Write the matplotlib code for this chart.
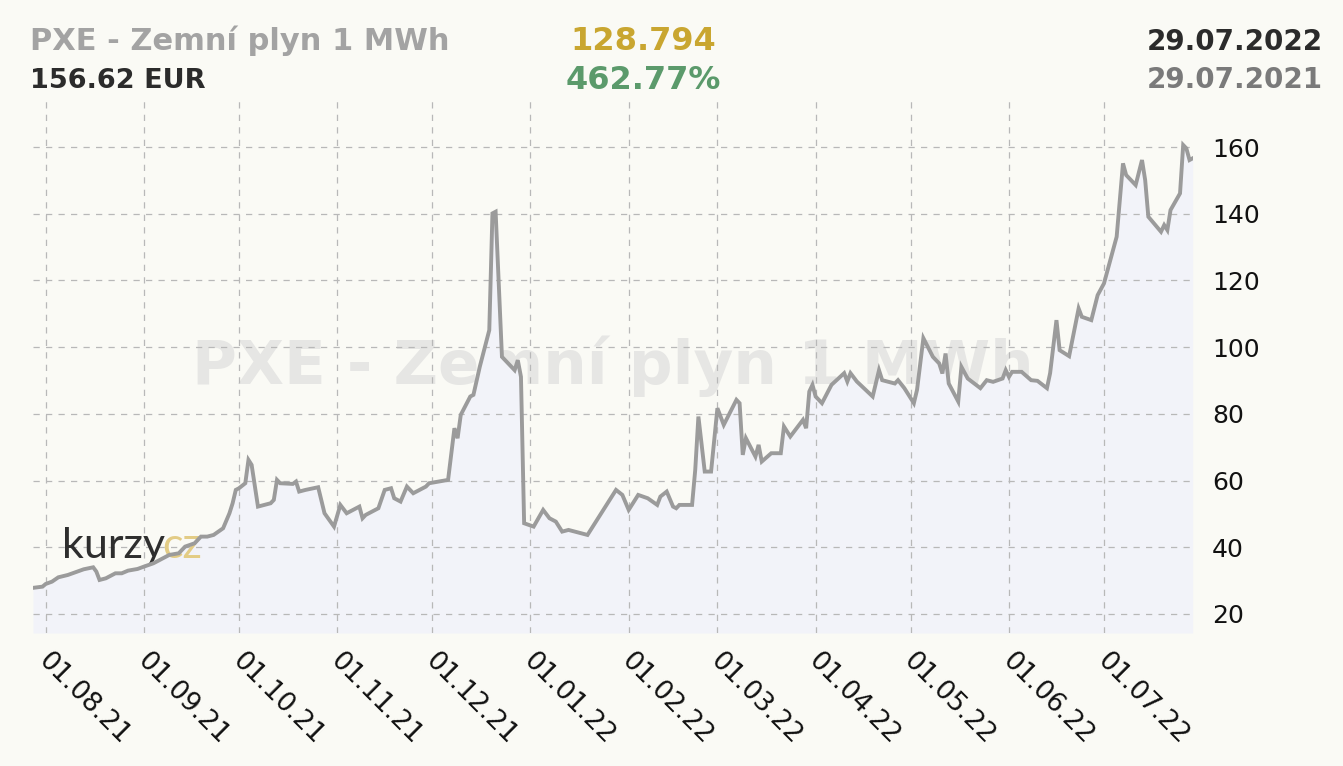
import matplotlib
matplotlib.use("Agg")
import matplotlib.pyplot as plt
from matplotlib.transforms import ScaledTranslation
import pandas as pd

# PXE natural gas 1 MWh, EUR, 29.07.2021 - 29.07.2022
dates = [
    "2021-07-28", "2021-07-31", "2021-08-01", "2021-08-03", "2021-08-05", "2021-08-08",
    "2021-08-11", "2021-08-13", "2021-08-16", "2021-08-17", "2021-08-18", "2021-08-20",
    "2021-08-21", "2021-08-23", "2021-08-25", "2021-08-27", "2021-08-30", "2021-09-01",
    "2021-09-04", "2021-09-07", "2021-09-09", "2021-09-12", "2021-09-14", "2021-09-17",
    "2021-09-19", "2021-09-21", "2021-09-23", "2021-09-26", "2021-09-28", "2021-09-29",
    "2021-09-30", "2021-10-01", "2021-10-03", "2021-10-04", "2021-10-05", "2021-10-07",
    "2021-10-11", "2021-10-12", "2021-10-13", "2021-10-14", "2021-10-18", "2021-10-19",
    "2021-10-20", "2021-10-22", "2021-10-26", "2021-10-28", "2021-10-31", "2021-11-02",
    "2021-11-04", "2021-11-08", "2021-11-09", "2021-11-10", "2021-11-14", "2021-11-16",
    "2021-11-18", "2021-11-19", "2021-11-21", "2021-11-23", "2021-11-25", "2021-11-29",
    "2021-11-30", "2021-12-06", "2021-12-08", "2021-12-09", "2021-12-10", "2021-12-13",
    "2021-12-14", "2021-12-16", "2021-12-19", "2021-12-20", "2021-12-21", "2021-12-23",
    "2021-12-27", "2021-12-28", "2021-12-29", "2021-12-30", "2022-01-02", "2022-01-05",
    "2022-01-07", "2022-01-09", "2022-01-11", "2022-01-13", "2022-01-19", "2022-01-24",
    "2022-01-28", "2022-01-30", "2022-02-01", "2022-02-04", "2022-02-07", "2022-02-10",
    "2022-02-11", "2022-02-13", "2022-02-15", "2022-02-16", "2022-02-17", "2022-02-21",
    "2022-02-22", "2022-02-23", "2022-02-25", "2022-02-27", "2022-03-01", "2022-03-03",
    "2022-03-07", "2022-03-08", "2022-03-09", "2022-03-10", "2022-03-13", "2022-03-14",
    "2022-03-15", "2022-03-18", "2022-03-21", "2022-03-22", "2022-03-24", "2022-03-28",
    "2022-03-29", "2022-03-30", "2022-03-31", "2022-04-01", "2022-04-03", "2022-04-06",
    "2022-04-10", "2022-04-11", "2022-04-12", "2022-04-14", "2022-04-19", "2022-04-21",
    "2022-04-22", "2022-04-26", "2022-04-27", "2022-04-29", "2022-05-02", "2022-05-03",
    "2022-05-05", "2022-05-08", "2022-05-10", "2022-05-11", "2022-05-12", "2022-05-13",
    "2022-05-16", "2022-05-17", "2022-05-19", "2022-05-23", "2022-05-25", "2022-05-27",
    "2022-05-30", "2022-05-31", "2022-06-01", "2022-06-02", "2022-06-05", "2022-06-08",
    "2022-06-10", "2022-06-13", "2022-06-14", "2022-06-16", "2022-06-17", "2022-06-20",
    "2022-06-23", "2022-06-24", "2022-06-27", "2022-06-29", "2022-07-01", "2022-07-03",
    "2022-07-05", "2022-07-07", "2022-07-08", "2022-07-11", "2022-07-13", "2022-07-14",
    "2022-07-15", "2022-07-19", "2022-07-20", "2022-07-21", "2022-07-22", "2022-07-25",
    "2022-07-26", "2022-07-27", "2022-07-28", "2022-07-29",
]
prices = [
    27.83, 28.2, 29.0, 29.7, 31.0, 31.7,
    32.7, 33.4, 34.0, 32.7, 30.2, 30.7,
    31.2, 32.2, 32.2, 33.0, 33.5, 34.2,
    35.2, 36.7, 37.7, 38.2, 40.2, 41.2,
    43.2, 43.2, 43.7, 45.7, 50.2, 53.2,
    57.2, 57.7, 59.2, 66.2, 64.7, 52.2,
    53.2, 54.2, 60.2, 59.2, 59.0, 59.7,
    56.7, 57.2, 58.0, 50.2, 46.2, 52.7,
    50.2, 52.2, 48.7, 49.7, 51.7, 57.2,
    57.7, 54.7, 53.7, 58.2, 56.2, 58.2,
    59.2, 60.2, 75.7, 72.7, 79.7, 85.2,
    85.7, 94.1, 105.1, 140.1, 140.6, 97.1,
    93.1, 96.1, 91.1, 47.2, 46.2, 51.2,
    48.7, 47.7, 44.7, 45.2, 43.7, 51.2,
    57.2, 55.7, 51.2, 55.7, 54.7, 52.7,
    55.2, 56.7, 52.2, 51.7, 52.7, 52.7,
    63.2, 79.2, 62.7, 62.7, 81.7, 76.7,
    84.2, 83.2, 67.7, 72.7, 67.2, 70.7,
    65.7, 68.2, 68.2, 76.2, 73.2, 78.2,
    75.7, 86.7, 88.7, 85.2, 83.2, 88.7,
    92.2, 89.7, 92.2, 89.7, 85.2, 93.1,
    90.1, 89.1, 90.1, 87.7, 83.2, 87.2,
    102.7, 97.1, 95.1, 92.1, 98.1, 89.1,
    83.7, 94.1, 90.6, 87.7, 90.1, 89.6,
    90.6, 93.1, 91.1, 92.6, 92.6, 90.1,
    89.9, 87.7, 92.2, 108.1, 99.1, 97.3,
    111.6, 109.1, 108.1, 115.6, 119.1, 126.1,
    133.1, 155.1, 151.6, 148.6, 156.1, 150.1,
    139.1, 134.6, 136.6, 135.1, 141.1, 146.1,
    160.6, 159.6, 156.1, 156.62,
]

month_ticks = ["2021-08-01", "2021-09-01", "2021-10-01", "2021-11-01", "2021-12-01",
               "2022-01-01", "2022-02-01", "2022-03-01", "2022-04-01", "2022-05-01",
               "2022-06-01", "2022-07-01"]
month_labels = ["01.08.21", "01.09.21", "01.10.21", "01.11.21", "01.12.21", "01.01.22",
                "01.02.22", "01.03.22", "01.04.22", "01.05.22", "01.06.22", "01.07.22"]
y_ticks = [20, 40, 60, 80, 100, 120, 140, 160]

title = "PXE - Zemní plyn 1 MWh"
last_price = "156.62 EUR"
abs_change = "128.794"
pct_change = "462.77%"
date_to = "29.07.2022"
date_from = "29.07.2021"

BG = "#fafaf5"
FILL = "#f2f3f9"
LINE = "#9b9b9b"
GRID = "#b8b8b8"

x = pd.to_datetime(dates)
ticks = pd.to_datetime(month_ticks)

fig = plt.figure(figsize=(13.43, 7.66), dpi=100, facecolor=BG)
ax = fig.add_axes([33 / 1343, 1 - 633 / 766, 1159.7 / 1343, 533 / 766])
ax.set_facecolor(BG)

ax.set_xlim(pd.Timestamp("2021-07-28"), pd.Timestamp("2022-07-29"))
ax.set_ylim(14.3, 174.1)

# faint watermark behind everything
ax.text(0.50, 0.50, title, transform=ax.transAxes, ha="center", va="center",
        fontsize=44, fontweight="bold", color="#e6e6e4", zorder=0)

ax.fill_between(x, prices, 14.3, color=FILL, lw=0, zorder=1)

# logo, under the price line
ax.text(0.025, 0.141, "kurzy", transform=ax.transAxes, fontsize=31, family="Lato",
        fontweight="normal", color="#2e2e2e", zorder=3)
ax.text(0.1115, 0.141, "cz", transform=ax.transAxes, fontsize=31, family="Lato",
        fontweight="normal", color="#e3cc85", zorder=3)

ax.plot(x, prices, color=LINE, lw=2.8, zorder=4, solid_joinstyle="miter")

# grid
for t in ticks:
    ax.axvline(t, color=GRID, lw=0.9, dashes=(5, 5), zorder=2)
for v in y_ticks:
    ax.axhline(v, color=GRID, lw=0.9, dashes=(5, 5), zorder=2)

for s in ax.spines.values():
    s.set_visible(False)

ax.yaxis.tick_right()
ax.set_yticks(y_ticks)
ax.tick_params(axis="y", length=0, pad=14, labelsize=18, labelcolor="#111111")
ax.set_xticks(ticks)
ax.set_xticklabels(month_labels, rotation=-45, ha="left", va="top",
                   rotation_mode="anchor", fontsize=19, color="#111111")
ax.tick_params(axis="x", length=0, pad=11)
shift = ScaledTranslation(6 / 100, 0, fig.dpi_scale_trans)
for lab in ax.get_xticklabels():
    lab.set_transform(lab.get_transform() + shift)

# header
fig.text(30 / 1343, 1 - 50 / 766, title, fontsize=22, fontweight="bold", color="#a3a3a3")
fig.text(30 / 1343, 1 - 88 / 766, last_price, fontsize=19.5, fontweight="bold", color="#2b2b2b")
fig.text(643 / 1343, 1 - 50 / 766, abs_change, fontsize=23, fontweight="bold",
         color="#c9a630", ha="center")
fig.text(643 / 1343, 1 - 89 / 766, pct_change, fontsize=23, fontweight="bold",
         color="#5b9a6b", ha="center")
fig.text(1323 / 1343, 1 - 50 / 766, date_to, fontsize=20, fontweight="bold",
         color="#2b2b2b", ha="right")
fig.text(1323 / 1343, 1 - 88 / 766, date_from, fontsize=20, fontweight="bold",
         color="#7a7a7a", ha="right")

fig.savefig("out.png", dpi=100, facecolor=BG)
